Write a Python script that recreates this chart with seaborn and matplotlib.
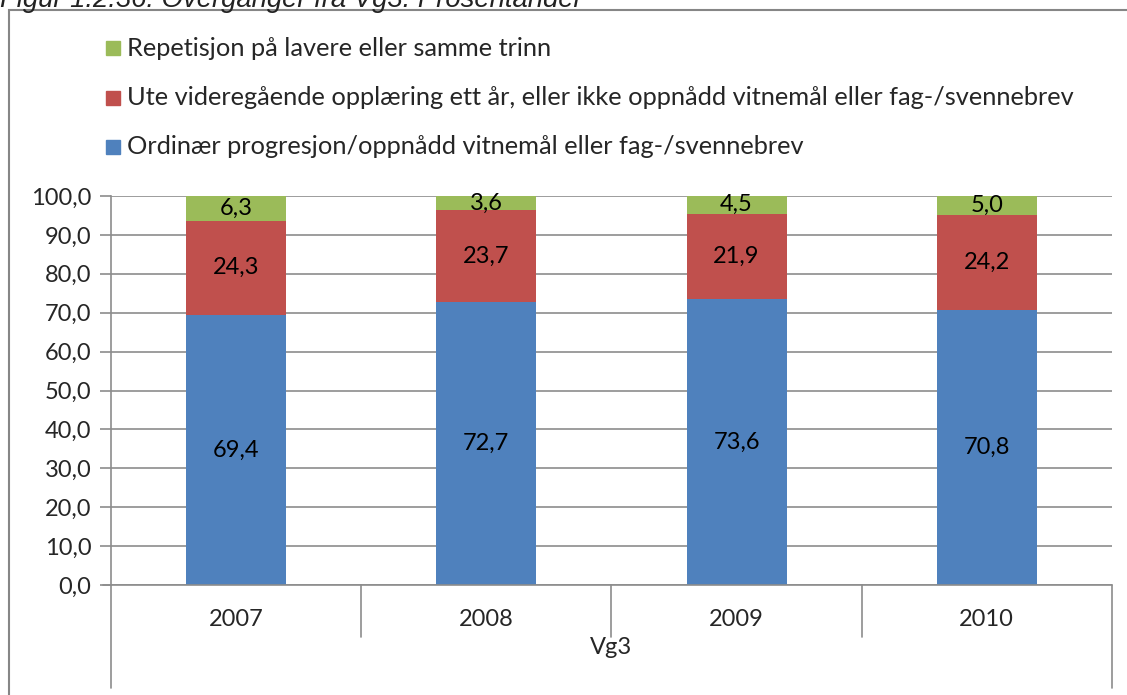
import numpy as np
import pandas as pd
import matplotlib
matplotlib.use('Agg')
import matplotlib.pyplot as plt
import matplotlib.patches as mpatches
from matplotlib.lines import Line2D
import seaborn as sb

years = ['2007', '2008', '2009', '2010']
ordinaer = [69.4, 72.7, 73.6, 70.8]
ute = [24.3, 23.7, 21.9, 24.2]
repetisjon = [6.3, 3.6, 4.5, 5.0]

labels = ['Ordinær progresjon/oppnådd vitnemål eller fag-/svennebrev',
          'Ute videregående opplæring ett år, eller ikke oppnådd vitnemål eller fag-/svennebrev',
          'Repetisjon på lavere eller samme trinn']
colors = ['#4F81BD', '#C0504D', '#9BBB59']
group_label = 'Vg3'
title = 'Figur 1.2.36: Overganger fra Vg3. Prosentandel'

sb.set_theme(style='white')
plt.rcParams['font.family'] = ['Lato', 'DejaVu Sans']

W, H = 1127, 695
FS = 17
fig = plt.figure(figsize=(W / 100, H / 100), dpi=100)


def fx(px):
    return px / W


def fy(py):
    return 1 - py / H


ax = fig.add_axes([fx(111), fy(585), fx(1112) - fx(111), fy(196) - fy(585)])

df = pd.DataFrame({'year': years, 'ord': ordinaer, 'ute': ute, 'rep': repetisjon})
df['c1'] = df['ord']
df['c2'] = df['ord'] + df['ute']
df['c3'] = df['c2'] + df['rep']

# draw cumulative totals from the top down so they stack
for col, color in zip(['c3', 'c2', 'c1'], colors[::-1]):
    sb.barplot(data=df, x='year', y=col, color=color, width=0.4,
               saturation=1, ax=ax, edgecolor='none')

# value labels centred in each segment
lower = np.zeros(len(years))
for vals in [ordinaer, ute, repetisjon]:
    for i, v in enumerate(vals):
        ax.text(i, lower[i] + v / 2, f'{v:.1f}'.replace('.', ','),
                ha='center', va='center', fontsize=FS, color='black')
    lower += np.array(vals)

grid_c = '#8C8C8C'
ax.set_ylim(0, 100)
ax.set_xlim(-0.5, len(years) - 0.5)
ax.set_yticks(np.arange(0, 101, 10))
ax.set_yticklabels([f'{t:.1f}'.replace('.', ',') for t in np.arange(0, 101, 10)], fontsize=FS)
ax.yaxis.grid(True, color=grid_c, linewidth=1.2)
ax.set_axisbelow(True)
ax.tick_params(axis='y', length=8, width=1.2, color=grid_c, pad=6, left=True)
ax.set_xticks([])
ax.set_xlabel('')
ax.set_ylabel('')
for s in ['top', 'right', 'bottom']:
    ax.spines[s].set_visible(False)
ax.spines['left'].set_color(grid_c)
ax.spines['left'].set_linewidth(1.2)

# category axis with group level below
fig.add_artist(Line2D([fx(103), fx(1112)], [fy(585), fy(585)], color=grid_c, lw=1.2))
for px in [361, 611, 862]:
    fig.add_artist(Line2D([fx(px), fx(px)], [fy(585), fy(637)], color=grid_c, lw=1.2))
for px in [111, 1112]:
    fig.add_artist(Line2D([fx(px), fx(px)], [fy(585), fy(688)], color=grid_c, lw=1.2))
for i, yr in enumerate(years):
    fig.text(fx(111 + 250 * i + 125), fy(620), yr, ha='center', va='center', fontsize=FS)
fig.text(fx(611), fy(648), group_label, ha='center', va='center', fontsize=FS)

# legend, drawn by hand: top entry is the top segment
for k, (c, l) in enumerate(zip(colors[::-1], labels[::-1])):
    yc = 48 + 49.5 * k
    fig.add_artist(mpatches.Rectangle((fx(106), fy(yc + 7)), fx(14), fy(0) - fy(14),
                                      color=c, transform=fig.transFigure))
    fig.text(fx(127), fy(yc), l, ha='left', va='center', fontsize=18.3)

# outer chart frame, running off the right and bottom edges
fig.add_artist(mpatches.Rectangle((fx(9), fy(720)), fx(1200), fy(10) - fy(720),
                                  fill=False, edgecolor='#868686', lw=1.5,
                                  transform=fig.transFigure))

# title, clipped at the top edge as in the source
fig.text(0, fy(7), title, ha='left', va='baseline', fontsize=19.8,
         style='italic', family=['Liberation Sans', 'DejaVu Sans'], color='#222222')

fig.savefig('out.png', dpi=100)
